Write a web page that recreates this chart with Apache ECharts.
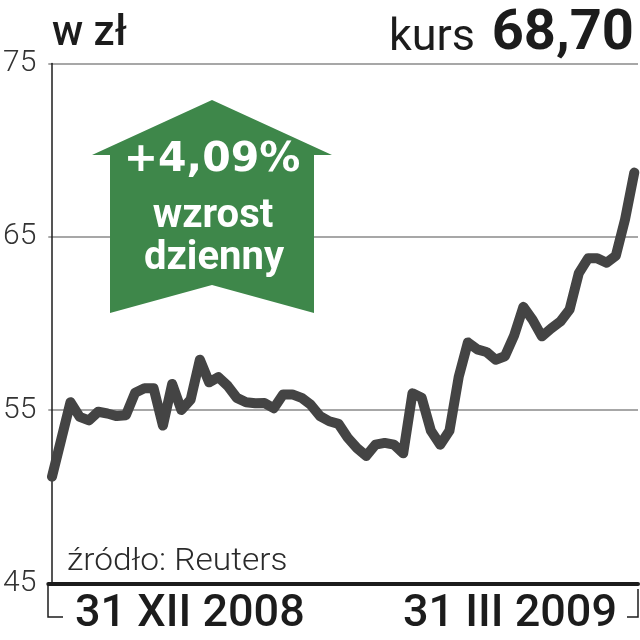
<!DOCTYPE html>
<html>
<head>
<meta charset="utf-8">
<script src="https://cdn.jsdelivr.net/npm/echarts@6/dist/echarts.min.js"></script>
<style>
html,body{margin:0;padding:0;background:#fff;}
#chart{width:640px;height:640px;}
</style>
</head>
<body>
<div id="chart"></div>
<script>
// ---- data (closing prices, 31 XII 2008 - 31 III 2009) ----
const prices = [51.15, 53.3, 55.45, 54.6, 54.4, 54.9, 54.8, 54.65, 54.7, 56.0,
  56.25, 56.25, 54.1, 56.5, 55.0, 55.6, 57.9, 56.6, 56.9, 56.4,
  55.7, 55.45, 55.39, 55.4, 55.1, 55.9, 55.9, 55.7, 55.3, 54.65,
  54.35, 54.2, 53.4, 52.8, 52.35, 53.0, 53.1, 53.0, 52.5, 55.96,
  55.7, 53.8, 53.0, 53.8, 56.9, 58.9, 58.5, 58.35, 57.9, 58.1,
  59.3, 60.95, 60.2, 59.25, 59.7, 60.1, 60.8, 62.9, 63.75, 63.75,
  63.5, 63.9, 66.0, 68.70];
const yTicks = [45, 55, 65, 75];
const xLabels = ['31 XII 2008', '31 III 2009'];
const unitLabel = 'w zł';
const priceLabel = 'kurs';
const lastPrice = '68,70';
const changeText = ['+4,09%', 'wzrost', 'dzienny'];
const sourceText = 'źródło: Reuters';

const seriesData = prices.map((v, i) => [i, v]);

const chart = echarts.init(document.getElementById('chart'), null, {renderer: 'canvas'});
const dark = '#1c1c1c';
const green = '#3e874a';

const option = {
  animation: false,
  backgroundColor: '#fff',
  grid: {left: 48, right: 2, top: 63.4, bottom: 56.7, containLabel: false},
  xAxis: {
    type: 'value', min: -0.4, max: prices.length - 1 + 0.4,
    axisLine: {show: true, onZero: false, lineStyle: {color: dark, width: 4}},
    axisTick: {show: false}, axisLabel: {show: false}, splitLine: {show: false}
  },
  yAxis: {
    type: 'value', min: yTicks[0], max: yTicks[yTicks.length - 1], interval: 10,
    axisLine: {show: true, lineStyle: {color: dark, width: 1.5}},
    axisTick: {show: false},
    axisLabel: {
      show: true, margin: 12, color: '#333', fontSize: 30, fontWeight: 300,
      fontFamily: 'Roboto', formatter: v => yTicks.includes(v) ? String(v) : ''
    },
    splitLine: {show: true, lineStyle: {color: '#8a8a8a', width: 1.5}}
  },
  series: [{
    type: 'line', data: seriesData, symbol: 'none', smooth: false,
    lineStyle: {color: '#444', width: 10, cap: 'round', join: 'round'},
    z: 3
  }],
  graphic: [
    // brackets at the ends of the time axis
    {type: 'polyline', z: 10, shape: {points: [[48, 584], [48, 617], [63, 617]]},
      style: {stroke: dark, lineWidth: 1.5, fill: null}},
    {type: 'polyline', z: 10, shape: {points: [[627, 617], [638, 617], [638, 589]]},
      style: {stroke: dark, lineWidth: 1.5, fill: null}},
    // green arrow
    {type: 'polygon', z: 5,
      shape: {points: [[212, 100], [332, 155], [314, 155], [314, 313], [212, 285], [110, 313], [110, 155], [92, 155]]},
      style: {fill: green}},
    {type: 'text', z: 6, style: {text: changeText[0], x: 212, y: 160, fill: '#fff',
      fontSize: 41, fontWeight: 'bold', fontFamily: 'DejaVu Sans', textAlign: 'center', textVerticalAlign: 'middle'}},
    {type: 'text', z: 6, style: {text: changeText[1], x: 213, y: 217, fill: '#fff',
      fontSize: 40, fontWeight: 'bold', fontFamily: 'Roboto', textAlign: 'center', textVerticalAlign: 'middle'}},
    {type: 'text', z: 6, style: {text: changeText[2], x: 214, y: 259, fill: '#fff',
      fontSize: 40, fontWeight: 'bold', fontFamily: 'Roboto', textAlign: 'center', textVerticalAlign: 'middle'}},
    // titles
    {type: 'text', z: 6, style: {text: unitLabel, x: 52, y: 34, fill: dark,
      fontSize: 42, fontWeight: 500, fontFamily: 'Roboto', textAlign: 'left', textVerticalAlign: 'middle'}},
    {type: 'text', z: 6, style: {text: priceLabel, x: 475, y: 39, fill: dark,
      fontSize: 45, fontWeight: 400, fontFamily: 'Roboto', textAlign: 'right', textVerticalAlign: 'middle'}},
    {type: 'text', z: 6, style: {text: lastPrice, x: 634, y: 35, fill: dark,
      fontSize: 56, fontWeight: 'bold', fontFamily: 'Roboto', textAlign: 'right', textVerticalAlign: 'middle'}},
    // source
    {type: 'text', z: 6, x: 67, y: 562, scaleX: 1.08, style: {text: sourceText, x: 0, y: 0, fill: '#2a2a2a',
      fontSize: 31, fontWeight: 300, fontFamily: 'Roboto', textAlign: 'left', textVerticalAlign: 'middle'}},
    // date labels
    {type: 'text', z: 6, style: {text: xLabels[0], x: 75, y: 615, fill: dark,
      fontSize: 45, fontWeight: 500, fontFamily: 'Roboto', textAlign: 'left', textVerticalAlign: 'middle'}},
    {type: 'text', z: 6, style: {text: xLabels[1], x: 617, y: 615, fill: dark,
      fontSize: 45, fontWeight: 500, fontFamily: 'Roboto', textAlign: 'right', textVerticalAlign: 'middle'}}
  ]
};
chart.setOption(option);
</script>
</body>
</html>
